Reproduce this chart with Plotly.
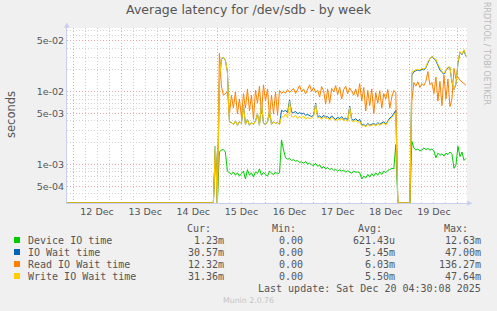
import numpy as np
import pandas as pd
import plotly.graph_objects as go

# ---------------- data ----------------
PRE_START = "2025-12-11 21:00"      # graph start (series are zero until data start)
DATA_START = "2025-12-14 20:00"     # hourly samples from here on
RANGE_END = "2025-12-20 04:30"

# values in milliseconds, first value belongs to PRE_START, then hourly
device_ms = [0,
    0, 0, 0, 1.8, 0, 1.5, 1.6, 1.62, 1.5, 0.82, 0.78,
    0.74, 0.80, 0.72, 0.78, 0.70, 0.76, 0.82, 0.64, 0.86, 0.72, 0.78, 0.68, 0.80,
    0.76, 0.88, 0.72, 0.79, 0.74, 0.70, 0.82, 0.76, 0.73, 0.80, 0.75, 0.78,
    2.2, 1.6, 1.25, 1.2, 1.22, 1.15, 1.18, 1.12, 1.15, 1.08, 1.1, 1.05, 1.12, 1.02, 1.06,
    1.0, 0.98, 1.05, 0.95, 1.0, 0.9, 0.95, 0.88, 0.92, 0.86, 0.9, 0.84, 0.87, 0.82, 0.86,
    0.82, 0.85, 0.79, 0.83, 0.8, 0.77, 0.82, 0.79, 0.8, 0.78, 0.64, 0.7, 0.66, 0.74, 0.68,
    0.76, 0.7, 0.78, 0.72, 0.8, 0.74, 0.82, 0.78, 0.84, 0.86, 0.9, 0.88, 1.9,
    0, 0, 0, 0, 0, 0, 0,
    2.1, 1.7, 1.6, 1.65, 1.55, 1.6, 1.7, 1.62, 1.68, 1.6, 1.65, 1.55, 1.25, 1.45,
    1.35, 1.42, 1.32, 1.45, 1.38, 1.5, 1.4, 0.9, 1.0, 1.8, 1.3, 1.5, 1.15, 1.23]

iowait_ms = [0,
    0, 0, 0, 1.8, 0, 14, 28, 30, 27, 19, 3.9,
    3.8, 3.6, 4.0, 3.5, 3.9, 3.7, 6.5, 3.6, 4.2, 3.5, 3.8, 3.6, 4.0,
    5.0, 3.5, 7.0, 3.7, 3.6, 3.9, 5.5, 3.6, 3.9, 3.7, 3.8, 3.6,
    5.6, 5.4, 5.6, 5.2, 7.8, 5.3, 5.2, 5.4, 5.0, 5.2, 5.0, 5.1, 4.8, 4.9, 4.7,
    4.6, 4.8, 7.0, 4.6, 4.7, 4.4, 4.8, 4.5, 4.6, 4.3, 4.7, 4.4, 4.2, 4.5, 4.3,
    4.6, 4.2, 4.4, 4.1, 6.4, 4.2, 4.1, 4.3, 4.0, 4.2, 3.5, 3.6, 3.4, 3.7, 3.5,
    3.6, 3.7, 3.5, 3.8, 3.6, 3.7, 3.9, 3.6, 4.0, 4.4, 4.6, 5.1, 5.6,
    0, 0, 0, 0, 0, 0, 0,
    17, 19, 19.5, 20, 19.5, 20.5, 20, 21.5, 25, 28.5, 30.5, 28.5, 27, 23,
    20, 18.5, 17.5, 19.5, 21.5, 21.5, 13.5, 10.8, 12.8, 25, 35, 32.5, 37, 30.57]

read_ms = [0,
    0, 0, 0, 1.6, 0, 34, 12, 9, 9.5, 10, 4.8,
    9, 6, 10, 5, 8, 4.5, 9.5, 6, 11, 5.5, 9, 4.2, 10.5,
    7, 12, 5, 12.5, 7.5, 11, 4.5, 9, 5, 10, 4.8, 10.5,
    9.5, 10.2, 9.6, 10.8, 9.8, 10.5, 11.2, 9.5, 10.6, 12.2, 10, 11, 9.4, 10.8, 12.5,
    10.2, 11.5, 9.8, 10.6, 8.5, 11.8, 10.4, 6.8, 11, 7, 11.2, 10, 12.2, 9.2, 11.6,
    8, 10.8, 12, 9.5, 11.4, 10.2, 9, 11, 8.6, 13, 7.5, 11.5, 5.5, 10.5, 6.5,
    11, 5, 9.8, 7, 10.4, 6, 9.5, 8, 10.8, 6, 8.5, 10.5, 9.8,
    0, 0, 0, 0, 0, 0, 0,
    7.5, 13.5, 12, 13.8, 11.5, 13, 12.2, 14, 19, 12.5, 13.5, 9.5, 16, 7.5,
    14, 6.5, 17, 8, 15, 6.3, 8, 21, 15, 16, 14.5, 13.8, 13, 12.32]

write_ms = [0,
    0, 0, 0, 1.8, 0, 15, 29, 30, 27, 19, 3.9,
    3.8, 3.6, 4.0, 3.5, 3.9, 3.7, 6.5, 3.6, 4.2, 3.5, 3.8, 3.6, 4.0,
    5.0, 3.5, 7.0, 3.7, 3.6, 3.9, 5.5, 3.6, 3.9, 3.7, 3.8, 3.6,
    4.6, 4.5, 5.0, 4.4, 7.5, 4.6, 4.5, 4.8, 4.3, 4.6, 4.4, 4.7, 4.2, 4.5, 4.3,
    4.4, 4.6, 6.8, 4.4, 4.5, 4.2, 4.6, 4.3, 4.4, 4.1, 4.5, 4.2, 4.0, 4.3, 4.1,
    4.4, 4.0, 4.2, 3.9, 6.2, 4.0, 3.9, 4.1, 3.8, 4.0, 3.4, 3.5, 3.3, 3.6, 3.4,
    3.5, 3.6, 3.4, 3.7, 3.5, 3.6, 3.8, 3.5, 3.9, 4.2, 4.4, 4.8, 5.2,
    0, 0, 0, 0, 0, 0, 0,
    19, 19.5, 20, 20.5, 20, 21, 20.5, 22, 26, 29, 31, 29, 28, 24,
    21, 19, 18, 20, 22, 22, 14, 11, 13, 26, 36, 33, 38, 31.36]

series_names = ["Device IO time", "IO Wait time", "Read IO Wait time", "Write IO Wait time"]
series_colors = ["#00CC00", "#0066B3", "#FF8000", "#FFCC00"]
legend_cur = ["1.23m", "30.57m", "12.32m", "31.36m"]
legend_min = ["0.00", "0.00", "0.00", "0.00"]
legend_avg = ["621.43u", "5.45m", "6.03m", "5.50m"]
legend_max = ["12.63m", "47.00m", "136.27m", "47.64m"]

y_major_vals = [5e-4, 1e-3, 5e-3, 1e-2, 5e-2]
y_major_text = ["5e-04", "1e-03", "5e-03", "1e-02", "5e-02"]
y_minor_vals = [3e-4, 4e-4, 6e-4, 7e-4, 8e-4, 9e-4, 2e-3, 3e-3, 4e-3, 6e-3, 7e-3,
                8e-3, 9e-3, 2e-2, 3e-2, 4e-2, 6e-2, 7e-2]
Y_RANGE = (3.0e-4, 7.53e-2)

TITLE = "Average latency for /dev/sdb - by week"
LAST_UPDATE = "Last update: Sat Dec 20 04:30:08 2025"
FOOTER = "Munin 2.0.76"
SIDE = "RRDTOOL / TOBI OETIKER"

# ---------------- figure ----------------
series = [device_ms, iowait_ms, read_ms, write_ms]
for s in series:
    assert len(s) == len(device_ms), (len(s), len(device_ms))
times = pd.DatetimeIndex([pd.Timestamp(PRE_START)]).append(
    pd.date_range(DATA_START, periods=len(device_ms) - 1, freq="h"))

W, H = 497, 311
L, R, T, B = 67, 30, 28, 108
PW, PH = W - L - R, H - T - B

def px(x):
    return (x - L) / PW

def py(y):
    return (H - B - y) / PH

fig = go.Figure()
for name, col, vals in zip(series_names, series_colors, series):
    v = np.asarray(vals, dtype=float) * 1e-3
    v = np.where(v > 0, v, Y_RANGE[0])   # zero drawn at the graph floor, like rrdtool
    fig.add_trace(go.Scatter(x=times, y=v, mode="lines", name=name,
                             line=dict(color=col, width=1), showlegend=False,
                             hoverinfo="skip"))

MAJ = "#E6A8A8"
MIN = "#D2D2D2"
AX = "#C8D0EE"
TXT = "#555555"

fig.update_layout(
    width=W, height=H,
    margin=dict(l=L, r=R, t=T, b=B),
    paper_bgcolor="#F0F0F0", plot_bgcolor="#FFFFFF",
    font=dict(family="DejaVu Sans", size=9.3, color=TXT),
    title=dict(text=TITLE, x=0.5, xref="container", xanchor="center",
               y=1 - 10 / H, yref="container", yanchor="middle",
               font=dict(family="DejaVu Sans", size=12.5, color="#555555")),
    xaxis=dict(type="date", range=[PRE_START, RANGE_END],
               tick0="2025-12-12", dtick=86400000, ticklabelmode="period",
               tickformat="%d %b", ticks="", showgrid=True, gridcolor=MAJ,
               griddash="1px,2px", gridwidth=1,
               minor=dict(dtick=6 * 3600000, tick0="2025-12-12", showgrid=True,
                          gridcolor=MIN, griddash="1px,2px", ticks=""),
               showline=True, linecolor=AX, linewidth=1, zeroline=False,
               tickfont=dict(size=9.5, color=TXT)),
    yaxis=dict(type="log", range=[np.log10(Y_RANGE[0]), np.log10(Y_RANGE[1])],
               tickmode="array", tickvals=y_major_vals, ticktext=y_major_text,
               ticks="", showgrid=True, gridcolor=MAJ, griddash="1px,2px",
               minor=dict(tickmode="array", tickvals=y_minor_vals, showgrid=True,
                          gridcolor=MIN, griddash="1px,2px", ticks=""),
               showline=True, linecolor=AX, linewidth=1, zeroline=False,
               tickfont=dict(size=9.5, color=TXT)),
)

ann = []
# axis arrows
ann.append(dict(x=0, y=1, xref="paper", yref="paper", text="▲", showarrow=False,
                xanchor="center", yanchor="bottom", yshift=-3,
                font=dict(size=7, color=AX)))
ann.append(dict(x=1, y=0, xref="paper", yref="paper", text="▶", showarrow=False,
                xanchor="left", yanchor="middle", xshift=-2,
                font=dict(size=7, color=AX)))
# y-axis title
ann.append(dict(x=px(11), y=py(114), xref="paper", yref="paper", text="seconds",
                textangle=-90, showarrow=False, xanchor="center", yanchor="middle",
                font=dict(family="DejaVu Sans", size=11.5, color=TXT)))
# side text
ann.append(dict(x=px(487), y=py(53), xref="paper", yref="paper", text=SIDE,
                textangle=90, showarrow=False, xanchor="center", yanchor="middle",
                font=dict(family="DejaVu Sans", size=8, color="#BBBBBB")))

MONO = dict(family="DejaVu Sans Mono", size=10, color=TXT)
headers = [("Cur:", 213), ("Min:", 298), ("Avg:", 384), ("Max:", 470)]
for h, xr in headers:
    ann.append(dict(x=px(xr), y=py(228), xref="paper", yref="paper", text=h,
                    showarrow=False, xanchor="right", yanchor="middle", font=MONO))
row_y = [240, 252, 264, 276]
shapes = []
for i, name in enumerate(series_names):
    yy = row_y[i]
    shapes.append(dict(type="rect", xref="paper", yref="paper",
                       x0=px(14), x1=px(20), y0=py(yy - 3), y1=py(yy + 3),
                       fillcolor=series_colors[i], line=dict(width=0)))
    ann.append(dict(x=px(26), y=py(yy), xref="paper", yref="paper", text=name,
                    showarrow=False, xanchor="left", yanchor="middle", font=MONO))
    for txt, xr in zip([legend_cur[i], legend_min[i], legend_avg[i], legend_max[i]],
                       [226, 305, 397, 483]):
        ann.append(dict(x=px(xr), y=py(yy), xref="paper", yref="paper", text=txt,
                        showarrow=False, xanchor="right", yanchor="middle", font=MONO))
ann.append(dict(x=px(483), y=py(288), xref="paper", yref="paper", text=LAST_UPDATE,
                showarrow=False, xanchor="right", yanchor="middle", font=MONO))
ann.append(dict(x=px(248), y=py(300), xref="paper", yref="paper", text=FOOTER,
                showarrow=False, xanchor="center", yanchor="middle",
                font=dict(family="DejaVu Sans", size=7.8, color="#C4C4C4")))

fig.update_layout(annotations=ann, shapes=shapes)
fig.write_html("out.html")
